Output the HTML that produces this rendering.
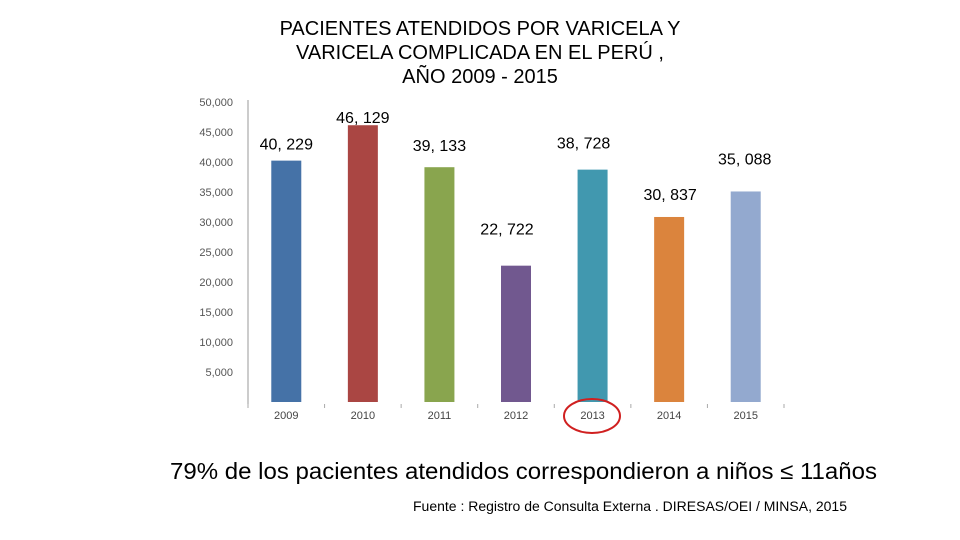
<!DOCTYPE html>
<html><head><meta charset="utf-8"><style>
body{margin:0;background:#fff;width:960px;height:540px;overflow:hidden;font-family:"Liberation Sans",sans-serif}
</style></head><body>
<svg width="960" height="540" style="position:absolute;left:0;top:0" font-family="Liberation Sans, sans-serif">
<text text-anchor="middle" font-size="20" fill="#000"><tspan x="480" y="35">PACIENTES ATENDIDOS POR VARICELA Y</tspan><tspan x="480" y="59">VARICELA COMPLICADA EN EL PERÚ ,</tspan><tspan x="480" y="83">AÑO 2009 - 2015</tspan></text>
<g id="plot"></g>
<ellipse cx="592" cy="416" rx="28" ry="17" fill="none" stroke="#d02020" stroke-width="2"/>
<text x="170" y="479" font-size="23" textLength="707" lengthAdjust="spacingAndGlyphs" fill="#000">79% de los pacientes atendidos correspondieron a niños ≤ 11años</text>
<text x="413" y="511" font-size="13.5" textLength="434" lengthAdjust="spacingAndGlyphs" fill="#000">Fuente : Registro de Consulta Externa . DIRESAS/OEI / MINSA, 2015</text>
</svg>
<script>
const categories=["2009","2010","2011","2012","2013","2014","2015"];
const values=[40229,46129,39133,22722,38728,30837,35088];
const valueLabels=["40, 229","46, 129","39, 133","22, 722","38, 728","30, 837","35, 088"];
const yTicks=[5000,10000,15000,20000,25000,30000,35000,40000,45000,50000];
const yTickLabels=["5,000","10,000","15,000","20,000","25,000","30,000","35,000","40,000","45,000","50,000"];
const colors=["#4572A7","#AA4643","#89A54E","#71588F","#4198AF","#DB843D","#93A9CF"];
const labelDx=[0,0,0,-9,-9,1,-1];
const labelDy=[-11,-2,-16,-31,-21,-17,-27];
const NS="http://www.w3.org/2000/svg";
const g=document.getElementById('plot');
const x0=248,x1=784,y0=402,yMax=50000,yTop=102;
const band=(x1-x0)/categories.length;
const xc=i=>x0+band*(i+0.5);
const y=v=>y0-(v/yMax)*(y0-yTop);
function mk(t,a){const e=document.createElementNS(NS,t);for(const k in a)e.setAttribute(k,a[k]);g.appendChild(e);return e;}
const ax=mk('line',{x1:x0,y1:y0+4,x2:x0,y2:yTop-2,stroke:'#999'});


yTicks.forEach((v,i)=>{const t=mk('text',{x:233,y:y(v)+4,'text-anchor':'end','font-size':'11',fill:'#555'});t.textContent=yTickLabels[i];

});
for(let i=0;i<=categories.length;i++){const l=mk('line',{x1:x0+band*i,y1:y0+2,x2:x0+band*i,y2:y0+6,stroke:'#aaa'});

}
categories.forEach((c,i)=>{
const b=mk('rect',{x:xc(i)-15,y:y(values[i]),width:30,height:y0-y(values[i]),fill:colors[i]});


const t=mk('text',{x:xc(i),y:419,'text-anchor':'middle','font-size':'11',fill:'#444'});t.textContent=c;


const v=mk('text',{x:xc(i)+labelDx[i],y:y(values[i])+labelDy[i],'text-anchor':'middle','font-size':'16',fill:'#000'});v.textContent=valueLabels[i];


});
</script>
</body></html>
